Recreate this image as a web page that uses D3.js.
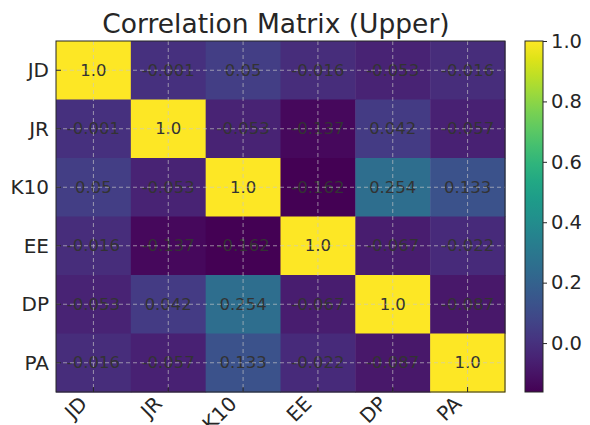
<!DOCTYPE html>
<html>
<head>
<meta charset="utf-8">
<script src="https://cdn.jsdelivr.net/npm/d3@7"></script>
<style>
  body { margin: 0; background: #fff; }
  text { font-family: "DejaVu Sans", sans-serif; }
</style>
</head>
<body>
<div id="chart"></div>
<script>
// Variables (row/column labels)
let labels = ["JD", "JR", "K10", "EE", "DP", "PA"];

// Correlation rows
let row_JD  = [1.0, -0.001, 0.05, -0.016, -0.053, -0.016];
let row_JR  = [-0.001, 1.0, -0.053, -0.137, 0.042, -0.057];
let row_K10 = [0.05, -0.053, 1.0, -0.162, 0.254, 0.133];
let row_EE  = [-0.016, -0.137, -0.162, 1.0, -0.067, -0.022];
let row_DP  = [-0.053, 0.042, 0.254, -0.067, 1.0, -0.087];
let row_PA  = [-0.016, -0.057, 0.133, -0.022, -0.087, 1.0];

// Colorbar ticks
let cbar_ticks = [0.0, 0.2, 0.4, 0.6, 0.8, 1.0];

let matrix = [row_JD, row_JR, row_K10, row_EE, row_DP, row_PA];

let W = 590, H = 425;
let plot = {left: 56, top: 41, right: 505, bottom: 392};
let cbar = {left: 525, right: 543};
let text_color = "#262626";

let svg = d3.select("#chart").append("svg")
    .attr("width", W)
    .attr("height", H);

// Flatten cells
let cells = [];
matrix.forEach(function(row, i) {
  row.forEach(function(v, j) {
    cells.push({r: labels[i], c: labels[j], v: v});
  });
});

let vmin = d3.min(cells, d => d.v);
let vmax = d3.max(cells, d => d.v);
let color = d3.scaleSequential(d3.interpolateViridis).domain([vmin, vmax]);

let x = d3.scaleBand().domain(labels).range([plot.left, plot.right]);
let y = d3.scaleBand().domain(labels).range([plot.top, plot.bottom]);

// Cells
svg.append("g").selectAll("rect")
  .data(cells)
  .enter().append("rect")
    .attr("x", d => x(d.c))
    .attr("y", d => y(d.r))
    .attr("width", x.bandwidth() + 0.5)
    .attr("height", y.bandwidth() + 0.5)
    .attr("fill", d => color(d.v));

// Annotations
svg.append("g").selectAll("text")
  .data(cells)
  .enter().append("text")
    .attr("x", d => x(d.c) + x.bandwidth() / 2)
    .attr("y", d => y(d.r) + y.bandwidth() / 2)
    .attr("text-anchor", "middle")
    .attr("dominant-baseline", "central")
    .style("font-size", "16.5px")
    .attr("fill", "#333333")
    .text(d => d.v === 1 ? "1.0" : String(d.v));

// Grid (dashed, through cell centres)
let grid = svg.append("g")
    .attr("stroke", "#c8c8c8")
    .attr("stroke-opacity", 0.65)
    .attr("stroke-width", 1)
    .attr("stroke-dasharray", "4,3");
labels.forEach(function(l) {
  let cx = x(l) + x.bandwidth() / 2;
  let cy = y(l) + y.bandwidth() / 2;
  grid.append("line").attr("x1", cx).attr("x2", cx).attr("y1", plot.top).attr("y2", plot.bottom);
  grid.append("line").attr("x1", plot.left).attr("x2", plot.right).attr("y1", cy).attr("y2", cy);
});

// Frame
svg.append("rect")
    .attr("x", plot.left).attr("y", plot.top)
    .attr("width", plot.right - plot.left).attr("height", plot.bottom - plot.top)
    .attr("fill", "none").attr("stroke", text_color).attr("stroke-width", 1);

// Y axis (inward ticks)
let yAxis = svg.append("g")
    .attr("transform", "translate(" + plot.left + ",0)")
    .call(d3.axisRight(y).tickSize(5).tickFormat(""));
yAxis.select(".domain").remove();
yAxis.selectAll("line").attr("stroke", text_color);
svg.append("g").selectAll("text")
  .data(labels)
  .enter().append("text")
    .attr("x", plot.left - 7)
    .attr("y", d => y(d) + y.bandwidth() / 2)
    .attr("text-anchor", "end")
    .attr("dominant-baseline", "central")
    .style("font-size", "20px")
    .attr("fill", text_color)
    .text(d => d);

// X axis (inward ticks)
let xAxis = svg.append("g")
    .attr("transform", "translate(0," + plot.bottom + ")")
    .call(d3.axisTop(x).tickSize(5).tickFormat(""));
xAxis.select(".domain").remove();
xAxis.selectAll("line").attr("stroke", text_color);
svg.append("g").selectAll("text")
  .data(labels)
  .enter().append("text")
    .attr("transform", d => "translate(" + (x(d) + x.bandwidth() / 2 - 5) + "," + (plot.bottom + 13) + ") rotate(-45)")
    .attr("text-anchor", "end")
    .style("font-size", "20px")
    .attr("fill", text_color)
    .text(d => d);

// Title
svg.append("text")
    .attr("x", 276)
    .attr("y", 33)
    .attr("text-anchor", "middle")
    .style("font-size", "26.5px")
    .attr("fill", text_color)
    .text("Correlation Matrix (Upper)");

// Colorbar
let cy_scale = d3.scaleLinear().domain([vmin, vmax]).range([plot.bottom, plot.top]);
let defs = svg.append("defs");
let grad = defs.append("linearGradient")
    .attr("id", "cbar_grad")
    .attr("x1", 0).attr("y1", 1).attr("x2", 0).attr("y2", 0);
d3.range(0, 1.0001, 0.05).forEach(function(t) {
  grad.append("stop").attr("offset", t).attr("stop-color", d3.interpolateViridis(t));
});
svg.append("rect")
    .attr("x", cbar.left).attr("y", plot.top)
    .attr("width", cbar.right - cbar.left).attr("height", plot.bottom - plot.top)
    .attr("fill", "url(#cbar_grad)")
    .attr("stroke", text_color).attr("stroke-width", 1);

let cAxis = svg.append("g")
    .attr("transform", "translate(" + cbar.right + ",0)")
    .call(d3.axisRight(cy_scale).tickValues(cbar_ticks).tickFormat(d3.format(".1f")).tickSize(4).tickPadding(4));
cAxis.select(".domain").remove();
cAxis.selectAll("line").attr("stroke", text_color);
cAxis.selectAll("text")
    .style("font-size", "19.5px")
    .style("font-family", "DejaVu Sans, sans-serif")
    .attr("fill", text_color);
</script>
</body>
</html>
